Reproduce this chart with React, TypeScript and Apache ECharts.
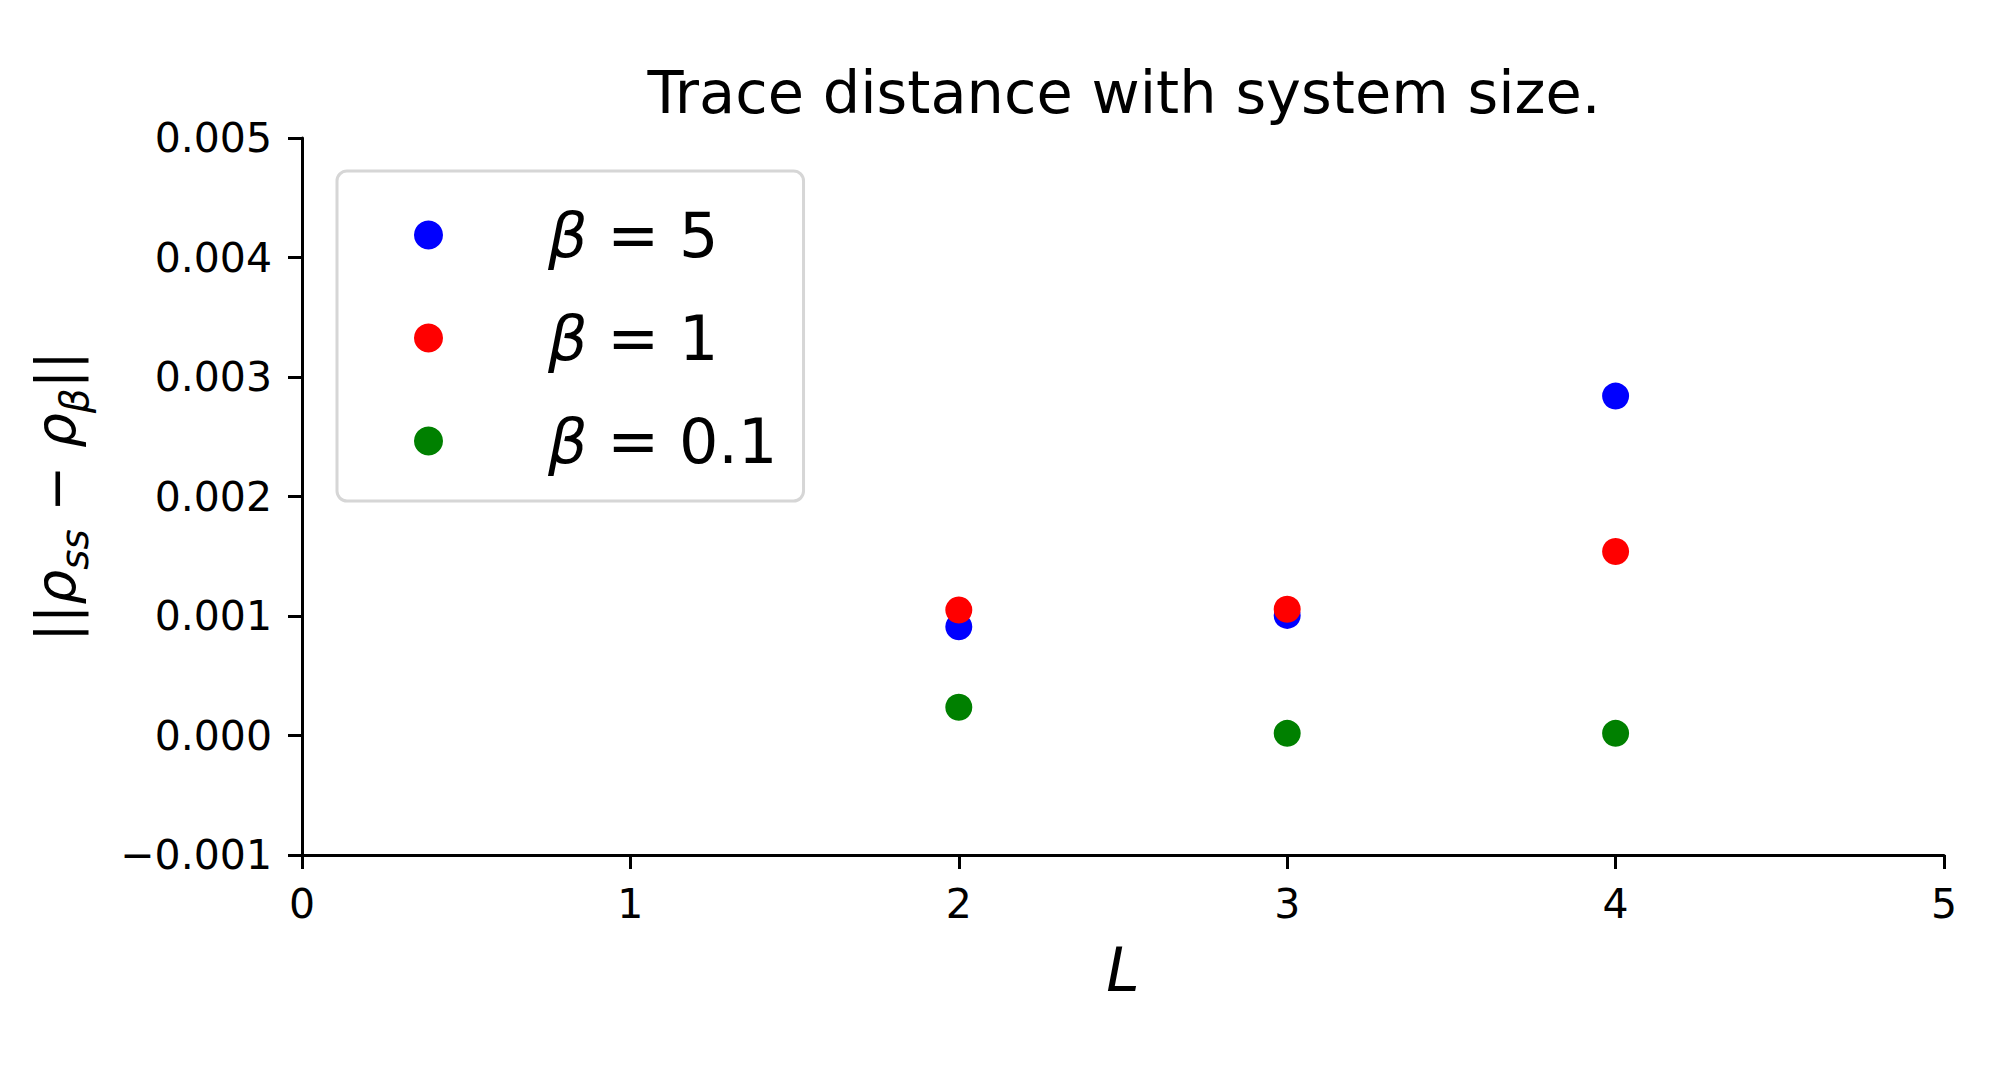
import React, { useEffect, useRef } from "react";
import * as echarts from "echarts";

const L_VALUES = [2, 3, 4];
const BETA5 = [0.00091, 0.001005, 0.00284];
const BETA1 = [0.00105, 0.001056, 0.00154];
const BETA01 = [0.000236, 0.000018, 0.000018];
const SERIES_NAMES = ["β = 5", "β = 1", "β = 0.1"];
const SERIES_COLORS = ["#0000ff", "#ff0000", "#008000"];
const LEGEND_VALUES = ["5", "1", "0.1"];

const FONT = "DejaVu Sans";

export default function App() {
  const ref = useRef<HTMLDivElement>(null);
  useEffect(() => {
    if (!ref.current) return;
    const chart = echarts.init(ref.current, null, { renderer: "svg" });
    const datasets = [BETA5, BETA1, BETA01];
    const series = datasets.map((vals, i) => ({
      name: SERIES_NAMES[i],
      type: "scatter",
      symbol: "circle",
      symbolSize: 27,
      itemStyle: { color: SERIES_COLORS[i], opacity: 1 },
      data: L_VALUES.map((l, j) => [l, vals[j]]),
      z: 2 + i,
    }));
    chart.setOption({
      animation: false,
      backgroundColor: "#ffffff",
      textStyle: { fontFamily: FONT },
      title: {
        text: "Trace distance with system size.",
        left: 1119,
        textAlign: "center",
        top: 58,
        textStyle: { fontFamily: FONT, fontSize: 59, fontWeight: "normal", color: "#000" },
      },
      grid: { left: 302, right: 63, top: 138, bottom: 224, containLabel: false },
      legend: {
        orient: "vertical",
        left: 337,
        top: 171,
        width: 466,
        padding: [29, 26, 25, 77],
        itemGap: 33,
        itemWidth: 29,
        itemHeight: 29,
        icon: "circle",
        backgroundColor: "rgba(255,255,255,0.8)",
        borderColor: "#d6d6d6",
        borderWidth: 3,
        borderRadius: 10,
        data: SERIES_NAMES,
        formatter: (name: string) => {
          const idx = SERIES_NAMES.indexOf(name);
          return `{b|β}{n| = ${LEGEND_VALUES[idx]}}`;
        },
        textStyle: {
          padding: [0, 0, 0, 100],
          lineHeight: 70,
          rich: {
            b: { fontFamily: FONT, fontSize: 62, fontStyle: "italic", color: "#000", lineHeight: 70 },
            n: { fontFamily: FONT, fontSize: 62, color: "#000", lineHeight: 70 },
          },
        },
      },
      xAxis: {
        type: "value",
        min: 0,
        max: 5,
        interval: 1,
        name: "L",
        nameLocation: "middle",
        nameGap: 85,
        nameTextStyle: { fontFamily: FONT, fontSize: 60, fontStyle: "italic", color: "#000" },
        axisLine: { show: true, onZero: false, lineStyle: { color: "#000", width: 3 } },
        axisTick: { show: true, inside: false, length: 14, lineStyle: { color: "#000", width: 3 } },
        axisLabel: { fontFamily: FONT, fontSize: 41, color: "#000", margin: 28 },
        splitLine: { show: false },
      },
      yAxis: {
        type: "value",
        min: -0.001,
        max: 0.005,
        interval: 0.001,
        name: "{a|||}{i|ρ}{s|ss}{a| − }{i|ρ}{s|β}{a|||}",
        nameLocation: "middle",
        nameRotate: 90,
        nameGap: 208,
        nameTextStyle: {
          rich: {
            a: { fontFamily: FONT, fontSize: 55, color: "#000", lineHeight: 76, verticalAlign: "middle" },
            i: { fontFamily: FONT, fontSize: 55, fontStyle: "italic", color: "#000", lineHeight: 76, verticalAlign: "middle" },
            s: { fontFamily: FONT, fontSize: 39, fontStyle: "italic", color: "#000", lineHeight: 39, verticalAlign: "bottom" },
          },
        },
        axisLine: { show: true, onZero: false, lineStyle: { color: "#000", width: 3 } },
        axisTick: { show: true, inside: false, length: 14, lineStyle: { color: "#000", width: 3 } },
        axisLabel: {
          fontFamily: FONT,
          fontSize: 41,
          color: "#000",
          margin: 30,
          formatter: (v: number) => {
            const s = Math.abs(v).toFixed(3);
            return v < -1e-12 ? "−" + s : s;
          },
        },
        splitLine: { show: false },
      },
      series,
    });
    return () => chart.dispose();
  }, []);
  return (
    <div
      ref={ref}
      style={{ position: "absolute", left: 0, top: 0, width: 2007, height: 1079, background: "#fff" }}
    />
  );
}
